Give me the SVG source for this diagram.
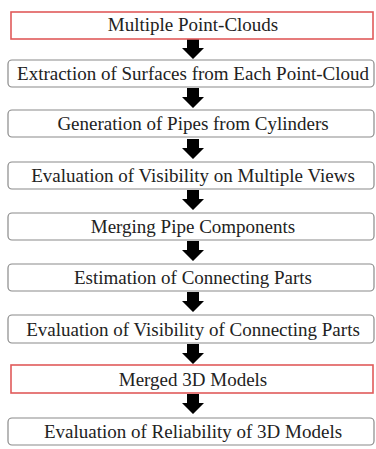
<svg xmlns="http://www.w3.org/2000/svg" width="376" height="449" viewBox="0 0 376 449">
<defs>
<style>
.box{fill:#fff;stroke:#8a8a8a;stroke-width:1.2}
.red{fill:#fff;stroke:#e05a5a;stroke-width:1.6}
.t{font-family:"Liberation Serif","Times New Roman",serif;font-size:19px;fill:#222;text-anchor:middle}
.arr{fill:#000}
</style>
<path id="ar" d="M-6,0 H6 V9 H11 L0,20 L-11,9 H-6 Z"/>
</defs>
<rect width="376" height="449" fill="#fff"/>
<g id="connectors" class="arr">
<use href="#ar" x="193" y="39"/>
<use href="#ar" x="193" y="88"/>
<use href="#ar" x="193" y="139"/>
<use href="#ar" x="193" y="190"/>
<use href="#ar" x="193" y="241"/>
<use href="#ar" x="193" y="292"/>
<use href="#ar" x="193" y="344"/>
<use href="#ar" x="193" y="394"/>
</g>
<g id="n1"><rect class="red" x="11" y="12" width="362" height="27"/><text class="t" x="193" y="31">Multiple Point-Clouds</text></g>
<g id="n2"><rect class="box" x="8" y="60" width="366" height="27" rx="4"/><text class="t" x="193" y="80">Extraction of Surfaces from Each Point-Cloud</text></g>
<g id="n3"><rect class="box" x="8" y="110" width="366" height="27" rx="4"/><text class="t" x="193" y="130">Generation of Pipes from Cylinders</text></g>
<g id="n4"><rect class="box" x="8" y="162" width="366" height="27" rx="4"/><text class="t" x="193" y="182">Evaluation of Visibility on Multiple Views</text></g>
<g id="n5"><rect class="box" x="8" y="213" width="366" height="27" rx="4"/><text class="t" x="193" y="233">Merging Pipe Components</text></g>
<g id="n6"><rect class="box" x="8" y="264" width="366" height="27" rx="4"/><text class="t" x="193" y="284">Estimation of Connecting Parts</text></g>
<g id="n7"><rect class="box" x="8" y="315" width="366" height="28" rx="4"/><text class="t" x="193" y="336">Evaluation of Visibility of Connecting Parts</text></g>
<g id="n8"><rect class="red" x="11" y="365" width="362" height="28"/><text class="t" x="193" y="386">Merged 3D Models</text></g>
<g id="n9"><rect class="box" x="8" y="418" width="366" height="27" rx="4"/><text class="t" x="193" y="438">Evaluation of Reliability of 3D Models</text></g>
</svg>
